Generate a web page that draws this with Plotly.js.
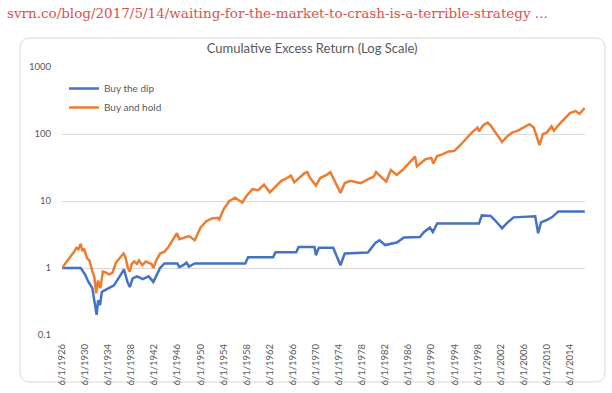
<!DOCTYPE html>
<html>
<head>
<meta charset="utf-8">
<script src="https://cdn.plot.ly/plotly-3.0.1.min.js"></script>
<style>
html,body{margin:0;padding:0;background:#fff;}
#chart{width:612px;height:393px;}
</style>
</head>
<body>
<div id="chart"></div>
<script>
// Buy and hold (orange)
var holdDates = ["1926-06","1927-03","1927-12","1928-06","1928-12","1929-04","1929-09","1929-12","1930-04","1930-10",
"1931-03","1931-09","1932-01","1932-05","1932-09","1933-02","1933-07","1934-02","1934-08","1935-03",
"1935-10","1936-04","1937-02","1937-06","1937-11","1938-03","1938-07","1938-12","1939-06","1939-10",
"1940-05","1940-12","1941-06","1941-12","1942-04","1942-10","1943-06","1944-03","1944-10","1945-06",
"1946-05","1946-10","1947-06","1948-06","1949-06","1950-06","1951-06","1952-06","1953-06","1953-09",
"1954-06","1955-06","1956-06","1957-09","1958-06","1959-06","1960-06","1961-06","1962-06","1963-06",
"1964-06","1965-06","1966-02","1966-09","1967-06","1968-06","1968-12","1969-06","1970-06","1971-03",
"1972-06","1972-12","1973-06","1974-09","1975-06","1976-06","1977-06","1978-03","1979-06","1980-06",
"1980-11","1981-06","1982-08","1983-06","1984-06","1985-06","1986-06","1987-08","1987-12","1988-06",
"1989-06","1990-06","1990-10","1991-06","1992-06","1993-06","1994-06","1995-06","1996-06","1997-06",
"1998-06","1998-09","1999-06","2000-03","2000-09","2001-06","2002-09","2003-06","2004-06","2005-06",
"2006-06","2007-06","2008-03","2008-11","2009-03","2009-10","2010-06","2011-04","2011-09","2012-06",
"2013-06","2014-06","2015-06","2016-02","2016-06","2017-01"];
var holdValues = [1.0,1.2,1.5,1.7,2.0,1.9,2.3,1.8,1.95,1.4,
1.3,0.9,0.75,0.42,0.65,0.5,0.88,0.85,0.8,0.85,
1.2,1.35,1.65,1.45,1.0,0.88,1.15,1.25,1.15,1.3,
1.1,1.25,1.2,1.15,1.0,1.3,1.65,1.75,2.0,2.5,
3.3,2.7,2.8,3.0,2.6,4.0,5.0,5.5,5.6,5.3,
7.5,10.0,11.2,9.5,12,15,14.5,17.5,13.5,16.5,
20,22,24,19,22,26,27,22,17,22,
25,27,22,13.2,18.5,20,19,18.5,21,23,
27,24,19.5,29,24.5,29,36,46,33,36,
42,44,36,47,50,55,56,68,85,105,
125,110,135,148,135,110,76,90,105,112,
125,140,125,80,68,100,105,130,112,135,
165,205,220,200,215,245];

// Buy the dip (blue)
var dipDates = ["1926-06","1929-09","1930-06","1931-01","1931-09","1932-03","1932-06","1932-09","1933-01","1933-05",
"1934-06","1935-06","1936-06","1937-03","1937-10","1938-03","1938-09","1939-06","1940-06","1941-06",
"1942-04","1942-12","1943-06","1944-03","1946-06","1946-10","1947-06","1948-01","1948-06","1949-06",
"1958-03","1958-09","1963-01","1963-06","1967-01","1967-06","1970-03","1970-06","1970-12","1973-06",
"1974-09","1975-06","1979-06","1980-09","1981-06","1982-06","1984-06","1985-09","1988-06","1989-03",
"1990-03","1990-09","1991-06","1998-09","1999-03","2000-09","2001-06","2002-09","2003-06","2004-09",
"2008-01","2008-06","2008-12","2009-06","2010-06","2011-06","2012-06","2017-01"];
var dipValues = [1.0,1.0,0.8,0.62,0.5,0.24,0.2,0.33,0.28,0.44,
0.5,0.55,0.75,0.95,0.62,0.52,0.7,0.75,0.68,0.75,
0.62,0.8,1.0,1.17,1.17,1.03,1.1,1.2,1.05,1.17,
1.17,1.45,1.45,1.72,1.72,2.05,2.05,1.55,2.0,2.0,
1.1,1.65,1.7,2.35,2.6,2.2,2.4,2.85,2.9,3.45,
4.0,3.45,4.6,4.6,6.1,6.0,5.2,3.9,4.6,5.7,
6.0,5.9,3.3,4.8,5.2,5.8,7.0,7.0];

var tickVals = [0.1,1,10,100,1000];
var tickText = ["0.1","1","10","100","1000"];

var gray = "#595959";
var traces = [
  {x: dipDates, y: dipValues, type: "scatter", mode: "lines", name: "Buy the dip",
   line: {color: "#4472C4", width: 2.5}},
  {x: holdDates, y: holdValues, type: "scatter", mode: "lines", name: "Buy and hold",
   line: {color: "#ED7D31", width: 2.5}}
];

// rounded border box in paper coordinates
var L=62, R=585, T=67, B=335, W=R-L, H=B-T;
function px(v){return (v-L)/W;}
function py(v){return (B-v)/H;}
var x0=px(20), x1=px(605), y0=py(382), y1=py(38), rx=10/W, ry=10/H;
var boxPath = "M"+(x0+rx)+","+y1+" L"+(x1-rx)+","+y1+" Q"+x1+","+y1+" "+x1+","+(y1-ry)+
  " L"+x1+","+(y0+ry)+" Q"+x1+","+y0+" "+(x1-rx)+","+y0+
  " L"+(x0+rx)+","+y0+" Q"+x0+","+y0+" "+x0+","+(y0+ry)+
  " L"+x0+","+(y1-ry)+" Q"+x0+","+y1+" "+(x0+rx)+","+y1+" Z";

var layout = {
  width: 612, height: 393,
  margin: {l: L, r: 612-R, t: T, b: 393-B, pad: 0},
  paper_bgcolor: "#ffffff", plot_bgcolor: "#ffffff",
  title: {text: "Cumulative Excess Return (Log Scale)", font: {family: "Lato, 'Open Sans', sans-serif", size: 13, color: gray},
          x: 0.51, xref: "container", xanchor: "center", y: 1-48/393, yref: "container", yanchor: "middle"},
  showlegend: true,
  legend: {x: px(64), y: py(74), xanchor: "left", yanchor: "top", bgcolor: "rgba(0,0,0,0)",
           font: {family: "Lato, 'Open Sans', sans-serif", size: 10, color: gray}, itemwidth: 30, tracegroupgap: 0},
  xaxis: {type: "date", range: ["1926-06-01", "2017-01-15"], tick0: "1926-06-01", dtick: "M48",
          tickformat: "%-m/%-d/%Y", tickangle: -90, showgrid: false, zeroline: false, showline: false,
          ticks: "", ticklabelstandoff: 6,
          tickfont: {family: "Lato, 'Open Sans', sans-serif", size: 9.5, color: gray}},
  yaxis: {type: "log", range: [-1, 3], tickvals: tickVals, ticktext: tickText, showgrid: true,
          gridcolor: "#d9d9d9", gridwidth: 1, zeroline: false, showline: false, ticks: "",
          ticklabelstandoff: 10,
          tickfont: {family: "Lato, 'Open Sans', sans-serif", size: 9.5, color: gray}},
  shapes: [{type: "path", xref: "paper", yref: "paper", path: boxPath, layer: "below",
            line: {color: "#d9d9d9", width: 1}, fillcolor: "rgba(0,0,0,0)"}],
  annotations: [{text: "svrn.co/blog/2017/5/14/waiting-for-the-market-to-crash-is-a-terrible-strategy ...",
                 xref: "paper", yref: "paper", x: px(5), y: py(13), xanchor: "left", yanchor: "middle",
                 showarrow: false, font: {family: "'DejaVu Serif', 'Liberation Serif', serif", size: 13.5, color: "#d9534f"}}]
};

Plotly.newPlot("chart", traces, layout, {displayModeBar: false, staticPlot: true});
</script>
</body>
</html>
